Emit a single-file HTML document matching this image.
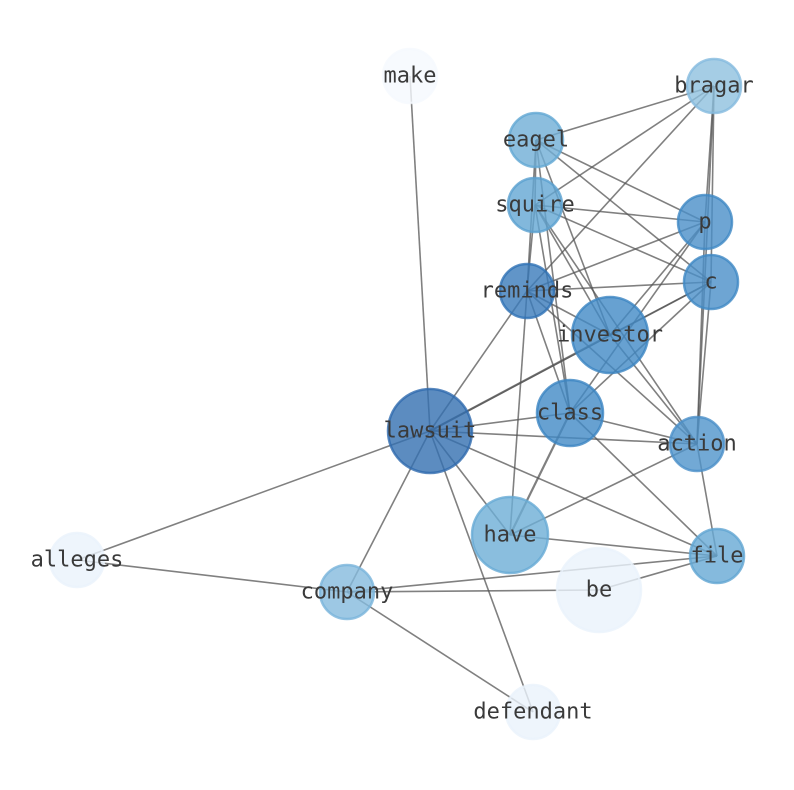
<!DOCTYPE html>
<html><head><meta charset="utf-8"><style>html,body{margin:0;padding:0;background:#fff}svg{display:block}</style></head>
<body>
<svg width="794" height="790" viewBox="0 0 794 790" xmlns="http://www.w3.org/2000/svg">
<g stroke="#555" stroke-opacity="0.75" stroke-width="1.6" fill="none">
<line x1="410" y1="76" x2="430" y2="431"/>
<line x1="714" y1="86" x2="536" y2="140"/>
<line x1="714" y1="86" x2="535" y2="205"/>
<line x1="714" y1="86" x2="527" y2="291"/>
<line x1="714" y1="86" x2="705" y2="222"/>
<line x1="714" y1="86" x2="711" y2="282"/>
<line x1="714" y1="86" x2="697" y2="444"/>
<line x1="536" y1="140" x2="705" y2="222"/>
<line x1="536" y1="140" x2="711" y2="282"/>
<line x1="536" y1="140" x2="527" y2="291"/>
<line x1="536" y1="140" x2="535" y2="205"/>
<line x1="536" y1="140" x2="610" y2="335"/>
<line x1="536" y1="140" x2="570" y2="413"/>
<line x1="535" y1="205" x2="705" y2="222"/>
<line x1="535" y1="205" x2="711" y2="282"/>
<line x1="535" y1="205" x2="527" y2="291"/>
<line x1="535" y1="205" x2="570" y2="413"/>
<line x1="535" y1="205" x2="610" y2="335"/>
<line x1="535" y1="205" x2="697" y2="444"/>
<line x1="527" y1="291" x2="705" y2="222"/>
<line x1="527" y1="291" x2="711" y2="282"/>
<line x1="527" y1="291" x2="610" y2="335"/>
<line x1="527" y1="291" x2="430" y2="431"/>
<line x1="527" y1="291" x2="510" y2="535"/>
<line x1="527" y1="291" x2="570" y2="413"/>
<line x1="527" y1="291" x2="697" y2="444"/>
<line x1="610" y1="335" x2="430" y2="431" stroke-width="2.2"/>
<line x1="610" y1="335" x2="711" y2="282"/>
<line x1="610" y1="335" x2="705" y2="222"/>
<line x1="610" y1="335" x2="697" y2="444"/>
<line x1="570" y1="413" x2="705" y2="222"/>
<line x1="570" y1="413" x2="711" y2="282"/>
<line x1="570" y1="413" x2="430" y2="431"/>
<line x1="570" y1="413" x2="697" y2="444"/>
<line x1="570" y1="413" x2="510" y2="535" stroke-width="2.2"/>
<line x1="570" y1="413" x2="717" y2="556"/>
<line x1="705" y1="222" x2="697" y2="444"/>
<line x1="711" y1="282" x2="697" y2="444"/>
<line x1="430" y1="431" x2="711" y2="282"/>
<line x1="430" y1="431" x2="697" y2="444"/>
<line x1="430" y1="431" x2="510" y2="535"/>
<line x1="430" y1="431" x2="717" y2="556"/>
<line x1="430" y1="431" x2="77" y2="560"/>
<line x1="430" y1="431" x2="347" y2="592"/>
<line x1="430" y1="431" x2="533" y2="712"/>
<line x1="697" y1="444" x2="510" y2="535"/>
<line x1="697" y1="444" x2="717" y2="556"/>
<line x1="510" y1="535" x2="717" y2="556"/>
<line x1="717" y1="556" x2="347" y2="592"/>
<line x1="717" y1="556" x2="599" y2="590"/>
<line x1="347" y1="592" x2="599" y2="590"/>
<line x1="347" y1="592" x2="77" y2="560"/>
<line x1="347" y1="592" x2="533" y2="712"/>
</g>
<g stroke-width="2.5" fill-opacity="0.8" stroke-opacity="0.8">
<circle cx="410" cy="76" r="27" fill="#f5f9fe" stroke="#f5f9fe"/>
<circle cx="714" cy="86" r="27" fill="#8fc0df" stroke="#85bade"/>
<circle cx="536" cy="140" r="27" fill="#6faed6" stroke="#62a7d3"/>
<circle cx="535" cy="205" r="27" fill="#63a6d3" stroke="#5aa0d0"/>
<circle cx="705" cy="222" r="27" fill="#4a8fc8" stroke="#3f88c4"/>
<circle cx="711" cy="282" r="27" fill="#4a8fc8" stroke="#3f88c4"/>
<circle cx="527" cy="291" r="27" fill="#3a7bba" stroke="#2f72b5"/>
<circle cx="610" cy="335" r="38" fill="#4189c5" stroke="#3b84c2"/>
<circle cx="570" cy="413" r="33" fill="#4189c5" stroke="#3b84c2"/>
<circle cx="430" cy="431" r="42" fill="#336fb0" stroke="#2f6aae"/>
<circle cx="697" cy="444" r="27" fill="#4f93ca" stroke="#4a8fc8"/>
<circle cx="510" cy="535" r="38" fill="#6daed6" stroke="#66aad4"/>
<circle cx="717" cy="556" r="27" fill="#67a9d4" stroke="#60a5d2"/>
<circle cx="77" cy="560" r="27" fill="#eaf2fb" stroke="#eaf2fb"/>
<circle cx="347" cy="592" r="27" fill="#84badd" stroke="#79b4db"/>
<circle cx="599" cy="590" r="42" fill="#eaf2fb" stroke="#eaf2fb"/>
<circle cx="533" cy="712" r="27" fill="#eaf2fb" stroke="#eaf2fb"/>
</g>
<g font-family="'DejaVu Sans Mono','Liberation Mono',monospace" font-size="22" fill="#3a3a3a" text-anchor="middle" dominant-baseline="central">
<text x="410" y="76">make</text>
<text x="714" y="86">bragar</text>
<text x="536" y="140">eagel</text>
<text x="535" y="205">squire</text>
<text x="705" y="222">p</text>
<text x="711" y="282">c</text>
<text x="527" y="291">reminds</text>
<text x="610" y="335">investor</text>
<text x="570" y="413">class</text>
<text x="430" y="431">lawsuit</text>
<text x="697" y="444">action</text>
<text x="510" y="535">have</text>
<text x="717" y="556">file</text>
<text x="77" y="560">alleges</text>
<text x="347" y="592">company</text>
<text x="599" y="590">be</text>
<text x="533" y="712">defendant</text>
</g>
</svg>
</body></html>
